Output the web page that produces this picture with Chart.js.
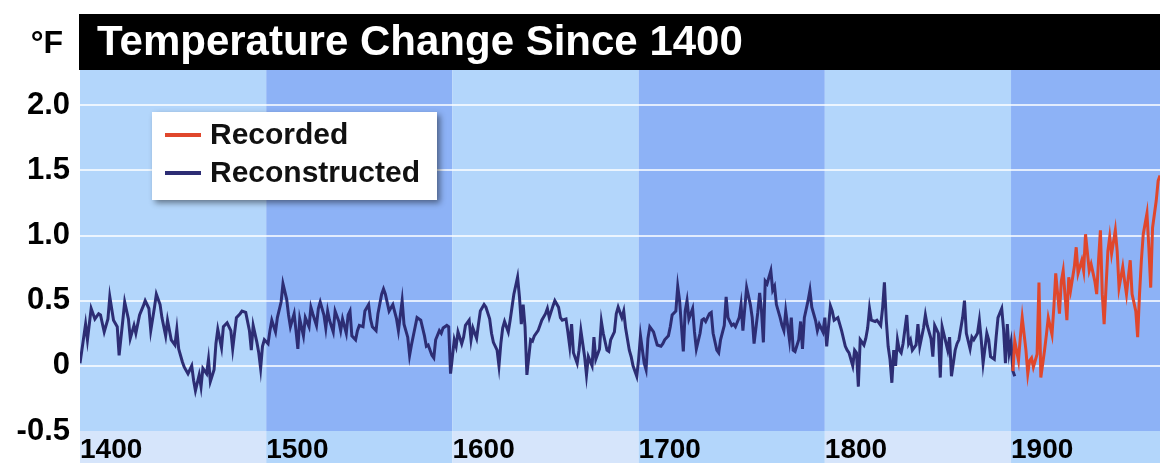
<!DOCTYPE html>
<html>
<head>
<meta charset="utf-8">
<title>Temperature Change Since 1400</title>
<script src="https://cdn.jsdelivr.net/npm/chart.js@4/dist/chart.umd.min.js"></script>
<style>
  html, body { margin: 0; padding: 0; background: #fff; }
  canvas { display: block; }
</style>
</head>
<body>
<canvas id="temp_chart" width="1160" height="463"></canvas>
<script>
// values (degrees F)
const reconYears = [
  1400,1403,1404,1406,1408,1410,1411,1413,1415,1416,1418,1420,1421,1423,1424,1426,1427,1429,1430,1432,
  1434,1435,1437,1438,1440,1441,1443,1444,1446,1447,1449,1451,1452,1453,1455,1456,1458,1460,1461,1462,
  1464,1465,1466,1468,1469,1470,1472,1473,1474,1476,1477,1479,1481,1482,1484,1486,1487,1489,1491,1492,
  1493,1495,1496,1497,1498,1499,1501,1502,1503,1505,1506,1508,1509,1511,1512,1513,1515,1516,1517,1518,
  1520,1521,1523,1524,1525,1527,1528,1529,1531,1532,1533,1534,1536,1537,1539,1540,1541,1543,1544,1545,
  1546,1548,1549,1550,1552,1553,1555,1556,1557,1559,1560,1562,1563,1564,1566,1568,1570,1571,1573,1574,
  1576,1577,1578,1580,1581,1583,1585,1586,1587,1589,1590,1591,1593,1594,1595,1597,1598,1599,1601,1602,
  1603,1605,1606,1607,1609,1610,1611,1613,1614,1615,1617,1618,1620,1621,1622,1624,1625,1626,1627,1628,
  1630,1631,1632,1633,1635,1636,1637,1638,1639,1640,1642,1643,1644,1646,1647,1648,1650,1651,1652,1654,
  1655,1657,1658,1659,1661,1662,1663,1664,1665,1667,1668,1669,1671,1672,1673,1675,1676,1677,1679,1680,
  1681,1683,1684,1685,1687,1688,1689,1691,1692,1693,1695,1696,1697,1699,1700,1701,1703,1704,1705,1706,
  1708,1709,1710,1712,1713,1714,1716,1717,1718,1720,1721,1722,1724,1725,1726,1727,1729,1730,1731,1733,
  1734,1735,1736,1738,1739,1740,1742,1743,1744,1746,1747,1748,1750,1751,1752,1754,1755,1756,1757,1758,
  1760,1761,1762,1764,1765,1766,1767,1768,1769,1771,1772,1773,1774,1776,1777,1778,1779,1781,1782,1783,
  1784,1786,1787,1788,1789,1791,1792,1793,1795,1796,1797,1799,1800,1801,1803,1804,1805,1807,1808,1809,
  1811,1812,1813,1815,1816,1817,1818,1819,1821,1822,1823,1824,1825,1827,1828,1830,1831,1832,1833,1834,
  1835,1836,1837,1838,1839,1840,1841,1842,1844,1845,1846,1847,1849,1850,1851,1853,1854,1855,1857,1858,
  1859,1861,1862,1863,1864,1866,1867,1868,1870,1871,1872,1874,1875,1876,1878,1879,1880,1882,1883,1884,
  1885,1887,1888,1889,1891,1892,1893,1895,1896,1897,1898,1899,1900,1901,1902
];
const reconTemps = [
  0.02,0.32,0.20,0.44,0.36,0.40,0.39,0.26,0.36,0.53,0.35,0.30,0.08,0.35,0.49,0.36,0.21,0.31,0.25,0.39,
  0.46,0.50,0.44,0.27,0.45,0.55,0.47,0.37,0.23,0.35,0.20,0.16,0.28,0.13,0.03,-0.01,-0.06,0.00,-0.11,-0.19,
  -0.07,-0.16,-0.02,-0.06,0.05,-0.12,-0.03,0.17,0.28,0.14,0.30,0.33,0.27,0.13,0.37,0.40,0.42,0.41,0.27,0.12,
  0.31,0.18,0.10,-0.02,0.15,0.20,0.17,0.27,0.35,0.26,0.37,0.49,0.63,0.51,0.39,0.30,0.40,0.27,0.13,0.36,
  0.23,0.37,0.30,0.45,0.40,0.31,0.44,0.49,0.39,0.29,0.42,0.35,0.26,0.42,0.34,0.27,0.36,0.25,0.39,0.42,
  0.23,0.20,0.27,0.31,0.30,0.42,0.47,0.36,0.30,0.27,0.40,0.55,0.59,0.55,0.42,0.47,0.36,0.27,0.50,0.32,
  0.22,0.08,0.16,0.30,0.37,0.35,0.23,0.15,0.16,0.08,0.06,0.20,0.27,0.25,0.29,0.31,0.30,-0.06,0.20,0.15,
  0.26,0.17,0.22,0.31,0.35,0.20,0.29,0.21,0.32,0.42,0.47,0.45,0.36,0.25,0.18,0.12,0.00,0.17,0.29,0.34,
  0.26,0.35,0.45,0.55,0.68,0.53,0.32,0.47,0.30,-0.07,0.20,0.19,0.23,0.27,0.31,0.35,0.40,0.44,0.37,0.46,
  0.50,0.45,0.37,0.35,0.36,0.26,0.15,0.32,0.10,0.02,0.12,0.27,0.07,-0.07,0.07,0.00,0.22,0.05,0.13,0.34,
  0.25,0.12,0.11,0.20,0.26,0.40,0.45,0.37,0.42,0.29,0.12,0.07,0.00,-0.08,0.05,0.23,0.02,-0.03,0.21,0.30,
  0.26,0.21,0.16,0.15,0.17,0.20,0.23,0.30,0.39,0.42,0.61,0.50,0.11,0.42,0.50,0.36,0.44,0.26,0.13,0.25,
  0.35,0.36,0.34,0.40,0.41,0.25,0.12,0.10,0.20,0.31,0.53,0.37,0.31,0.32,0.30,0.37,0.47,0.27,0.44,0.60,
  0.47,0.37,0.17,0.41,0.56,0.42,0.18,0.65,0.63,0.73,0.58,0.61,0.47,0.37,0.31,0.27,0.42,0.20,0.37,0.12,
  0.11,0.20,0.34,0.13,0.37,0.50,0.58,0.45,0.35,0.27,0.32,0.26,0.37,0.15,0.46,0.42,0.35,0.37,0.32,0.27,
  0.15,0.12,0.10,0.00,0.12,0.10,-0.16,0.20,0.16,0.21,0.29,0.44,0.35,0.34,0.35,0.31,0.44,0.64,0.35,0.15,
  0.05,-0.13,0.12,0.00,0.20,0.12,0.10,0.17,0.39,0.17,0.20,0.12,0.16,0.32,0.15,0.29,0.39,0.31,0.21,0.07,
  0.31,0.25,-0.09,0.30,0.24,0.12,0.22,-0.08,0.12,0.17,0.20,0.37,0.50,0.25,0.13,0.22,0.20,0.25,0.35,0.20,
  0.02,0.25,0.20,0.07,0.05,0.22,0.37,0.44,0.28,0.02,0.32,0.10,0.18,-0.04,-0.08
];
const recordYears = [
  1901,1902,1904,1905,1906,1908,1909,1910,1911,1912,1914,1915,1916,1918,1919,1920,1922,1923,1924,1926,
  1927,1928,1930,1931,1932,1934,1935,1936,1938,1939,1940,1942,1943,1945,1946,1947,1948,1949,1950,1952,
  1953,1954,1956,1957,1958,1960,1961,1962,1964,1965,1967,1968,1969,1970,1971,1973,1974,1975,1976,1978,
  1979,1980
];
const recordTemps = [
  -0.04,0.19,0.04,0.22,0.37,0.12,-0.06,0.04,0.06,-0.01,0.09,0.64,-0.09,0.12,0.24,0.37,0.24,0.45,0.71,0.40,
  0.65,0.73,0.35,0.68,0.58,0.76,0.91,0.71,0.81,0.73,1.01,0.73,0.78,0.65,0.55,0.81,1.04,0.55,0.32,0.88,
  0.99,0.86,1.04,0.88,0.60,0.76,0.65,0.55,0.81,0.55,0.42,0.22,0.55,0.81,1.01,1.17,0.91,0.60,1.06,1.27,
  1.42,1.46
];
const centuryStarts = [1400, 1500, 1600, 1700, 1800, 1900];
const yTickValues = [-0.5, 0, 0.5, 1.0, 1.5, 2.0];
const titleText = 'Temperature Change Since 1400';
const unitText = '\u00B0F';

const FONT = '"Liberation Sans", Arial, sans-serif';
const lightBand = '#b3d6fb';
const darkBand = '#8db2f6';
const paleBand = '#d6e5fb';

function toPoints(xs, ys) {
  return xs.map((yr, i) => ({ x: yr, y: ys[i] }));
}

// backgrounds, title bar and the boxed legend
const decor = {
  id: 'decor',
  beforeDraw(chart) {
    const { ctx, chartArea: a, scales: { x } } = chart;
    ctx.save();
    ctx.fillStyle = '#fff';
    ctx.fillRect(0, 0, chart.width, chart.height);
    centuryStarts.forEach((yr, i) => {
      const x0 = x.getPixelForValue(yr);
      const x1 = i + 1 < centuryStarts.length ? x.getPixelForValue(centuryStarts[i + 1]) : a.right;
      ctx.fillStyle = i % 2 ? darkBand : lightBand;
      ctx.fillRect(x0, a.top, x1 - x0, a.bottom - a.top);
      ctx.fillStyle = i % 2 ? lightBand : paleBand;
      ctx.fillRect(x0, a.bottom, x1 - x0, chart.height - a.bottom);
    });
    ctx.fillStyle = '#000';
    ctx.fillRect(a.left - 1, 14, a.right - a.left + 1, a.top - 14);
    ctx.fillStyle = '#fff';
    ctx.font = 'bold 42px ' + FONT;
    ctx.textBaseline = 'alphabetic';
    ctx.textAlign = 'left';
    ctx.fillText(titleText, a.left + 17, 55);
    ctx.fillStyle = '#000';
    ctx.font = 'bold 32px ' + FONT;
    ctx.textAlign = 'right';
    ctx.fillText(unitText, 63, 53);
    ctx.restore();
  },
  afterDatasetsDraw(chart) {
    const { ctx, chartArea: a } = chart;
    const bx = a.left + 72, by = a.top + 42, bw = 285, bh = 88;
    ctx.save();
    ctx.shadowColor = 'rgba(0,0,0,0.45)';
    ctx.shadowBlur = 6;
    ctx.shadowOffsetX = 3;
    ctx.shadowOffsetY = 3;
    ctx.fillStyle = '#fff';
    ctx.fillRect(bx, by, bw, bh);
    ctx.restore();
    ctx.save();
    ctx.font = 'bold 30px ' + FONT;
    ctx.textBaseline = 'middle';
    ctx.textAlign = 'left';
    chart.data.datasets.forEach((ds, i) => {
      const ly = by + 23 + i * 38;
      ctx.strokeStyle = ds.borderColor;
      ctx.lineWidth = 4;
      ctx.beginPath();
      ctx.moveTo(bx + 13, ly);
      ctx.lineTo(bx + 49, ly);
      ctx.stroke();
      ctx.fillStyle = '#111';
      ctx.fillText(ds.label, bx + 58, ly + 1);
    });
    ctx.restore();
  }
};

const ctx = document.getElementById('temp_chart').getContext('2d');
const chart = new Chart(ctx, {
  type: 'line',
  data: {
    datasets: [{
      label: 'Recorded',
      data: toPoints(recordYears, recordTemps),
      borderColor: '#e0472c',
      borderWidth: 3,
      pointRadius: 0,
      tension: 0
    }, {
      label: 'Reconstructed',
      data: toPoints(reconYears, reconTemps),
      borderColor: '#2d2d74',
      borderWidth: 3,
      pointRadius: 0,
      tension: 0
    }]
  },
  options: {
    responsive: false,
    animation: false,
    layout: { padding: { top: 70, left: 0, right: 0, bottom: 0 } },
    plugins: {
      legend: { display: false },
      tooltip: { enabled: false },
      title: { display: false }
    },
    scales: {
      x: {
        type: 'linear',
        min: 1400,
        max: 1980,
        afterBuildTicks: s => { s.ticks = centuryStarts.map(v => ({ value: v })); },
        afterFit: s => { s.height = 32; },
        grid: { display: false, drawTicks: false },
        border: { display: false },
        ticks: {
          align: 'start',
          padding: 5,
          maxRotation: 0,
          autoSkip: false,
          color: '#000',
          font: { family: FONT, size: 28, weight: 'bold', lineHeight: 1 },
          callback: v => String(v)
        }
      },
      y: {
        min: -0.5,
        max: 2.27,
        afterBuildTicks: s => { s.ticks = yTickValues.map(v => ({ value: v })); },
        afterFit: s => { s.width = 80; },
        grid: {
          drawTicks: false,
          lineWidth: 2,
          color: c => (c.tick && c.tick.value === -0.5) ? 'rgba(0,0,0,0)' : 'rgba(255,255,255,0.75)'
        },
        border: { display: false },
        ticks: {
          padding: 10,
          color: '#000',
          font: { family: FONT, size: 31, weight: 'bold', lineHeight: 1 },
          callback: v => v === 0 ? '0' : v.toFixed(1)
        }
      }
    }
  },
  plugins: [decor]
});
</script>
</body>
</html>
